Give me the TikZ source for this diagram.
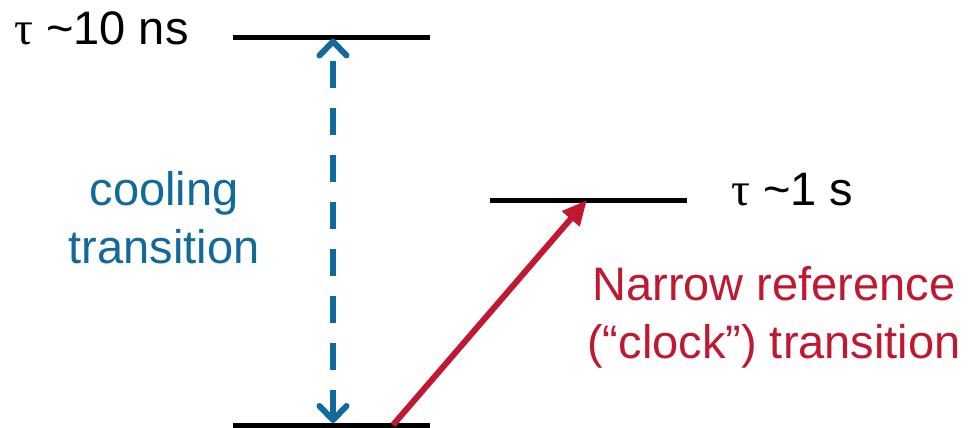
\documentclass[tikz,border=0pt]{standalone}
\usepackage{fontspec}
\setmainfont{Liberation Sans}
\newfontfamily\taufont{Liberation Serif}
\usetikzlibrary{arrows.meta}
\definecolor{coolblue}{RGB}{18,106,156}
\definecolor{clockred}{RGB}{192,24,48}
\begin{document}
\begin{tikzpicture}[x=1pt,y=-1pt,
  level/.style={line width=5pt,black},
  bigtext/.style={font=\fontsize{47}{58}\selectfont,inner sep=0pt},
  lbl/.style={bigtext,anchor=base west},
  coolarrow/.style={coolblue,line width=6.5pt,dash pattern=on 27pt off 20pt,
    {Straight Barb[length=14pt,width=27pt,line width=6pt,round]}-{Straight Barb[length=14pt,width=27pt,line width=6pt,round]}},
  clockarrow/.style={clockred,line width=6pt,-{Triangle[length=25pt,width=22pt]}}]
\useasboundingbox (0,0) rectangle (970,428);
% energy levels
\draw[level] (233,38) coordinate (eL) -- (430,38) coordinate (eR);
\draw[level] (490,200) coordinate (mL) -- (687,200) coordinate (mR);
\draw[level] (233,425.5) coordinate (gL) -- (430,425.5) coordinate (gR);
\coordinate (eT) at (333,38.5);
\coordinate (gT) at (333,423);
\coordinate (cStart) at (393,425);
\coordinate (cEnd) at (587,200);
% transitions
\draw[coolarrow] (gT) -- (eT);
\draw[clockarrow] (cStart) -- (cEnd);
% labels (base anchor of a two-line node sits on its last line)
\node[lbl] (tauE) at (14,45) {{\taufont τ} \~{}10 ns};
\node[lbl] (tauM) at (731,205) {{\taufont τ} \~{}1 s};
\node[bigtext,text=coolblue,align=center,anchor=base] (cool) at (164,263) {cooling\\transition};
\node[bigtext,text=clockred,align=center,anchor=base] (clock) at (774,358) {Narrow reference\\(“clock”) transition};
\end{tikzpicture}
\end{document}
